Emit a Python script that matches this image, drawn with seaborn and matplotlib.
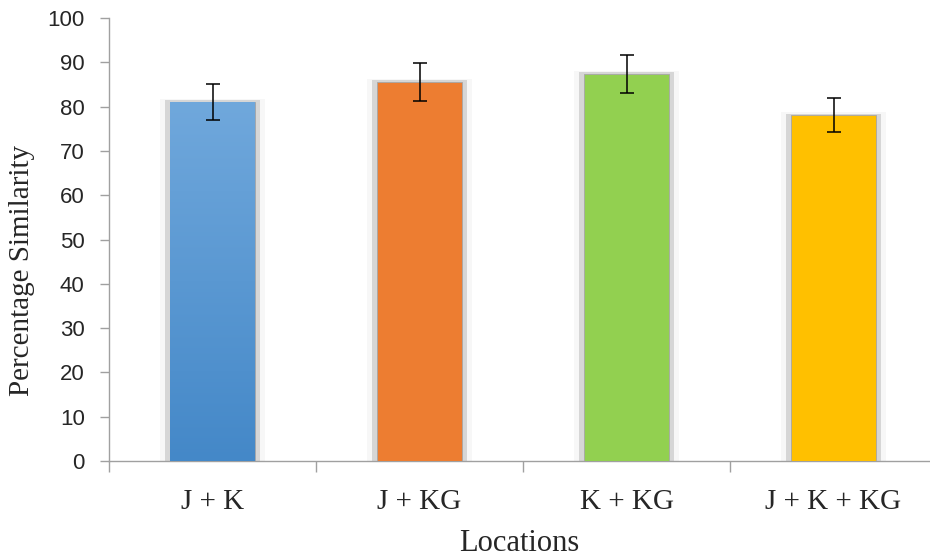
"""Percentage similarity between locations, bar chart with error bars."""

import matplotlib.pyplot as plt
import numpy as np
import pandas as pd
import seaborn as sns
from matplotlib.patches import Rectangle

locations = ["J + K", "J + KG", "K + KG", "J + K + KG"]
similarity = [81.1, 85.6, 87.4, 78.1]
errors = [4.1, 4.25, 4.35, 3.9]
bar_colors = ["#5b9bd5", "#ed7d31", "#92d050", "#ffc000"]
y_ticks = list(range(0, 101, 10))

df = pd.DataFrame({"location": locations, "similarity": similarity})

sns.set_theme(style="white")
plt.rcParams["font.family"] = ["Liberation Sans", "DejaVu Sans"]

fig = plt.figure(figsize=(9.3, 5.56), dpi=100)
ax = fig.add_axes([109 / 930, 1 - 461 / 556, 1 - 109 / 930, (461 - 18) / 556])

sns.barplot(
    data=df,
    x="location",
    y="similarity",
    hue="location",
    palette=bar_colors,
    legend=False,
    width=0.41,
    saturation=1,
    errorbar=None,
    ax=ax,
    zorder=3,
)

# soft shadow around each bar and a gradient on the blue one
px = 1 / 207
for i, bar in enumerate(ax.patches[: len(locations)]):
    x0, w, h = bar.get_x(), bar.get_width(), bar.get_height()
    for pad, col in [(10, "#f7f7f7"), (5, "#d6d6d6")]:
        ax.add_patch(
            Rectangle(
                (x0 - pad * px, 0),
                w + 2 * pad * px,
                h + pad * 0.06,
                color=col,
                zorder=1,
                lw=0,
            )
        )
    bar.set_edgecolor("#a6a6a6")
    bar.set_linewidth(0.6)
    if i == 0:
        grad = np.linspace(0, 1, 256).reshape(-1, 1)
        cmap = sns.blend_palette(["#4488c8", "#70a8dc"], as_cmap=True)
        im = ax.imshow(
            grad,
            cmap=cmap,
            extent=(x0, x0 + w, 0, h),
            origin="lower",
            aspect="auto",
            zorder=3.5,
        )
        im.set_clip_path(bar)

ax.errorbar(
    range(len(locations)),
    similarity,
    yerr=errors,
    fmt="none",
    ecolor="black",
    elinewidth=1.1,
    capsize=5,
    capthick=1.1,
    zorder=5,
)

ax.set_xlim(-0.5, -0.5 + (930 - 109) / 207)
ax.set_ylim(0, 100)
ax.set_yticks(y_ticks)
ax.tick_params(axis="y", labelsize=16, length=6.5, width=1, color="#a0a0a0", pad=11, left=True)
ax.set_xticks(range(len(locations)))
ax.set_xticklabels(locations, family="Liberation Serif", fontsize=21)
ax.tick_params(axis="x", length=0, pad=20)
ax.set_xticks([-0.5, 0.5, 1.5, 2.5], minor=True)
ax.tick_params(axis="x", which="minor", length=8, width=1, color="#a0a0a0", bottom=True)

for side in ["top", "right"]:
    ax.spines[side].set_visible(False)
for side in ["left", "bottom"]:
    ax.spines[side].set_color("#a0a0a0")
    ax.spines[side].set_linewidth(1)

ax.set_xlabel("Locations", family="Liberation Serif", fontsize=22, labelpad=10)
ax.set_ylabel("Percentage Similarity", family="Liberation Serif", fontsize=21)
ax.yaxis.set_label_coords(-0.090, 0.431)

fig.savefig("out.png", dpi=100)
